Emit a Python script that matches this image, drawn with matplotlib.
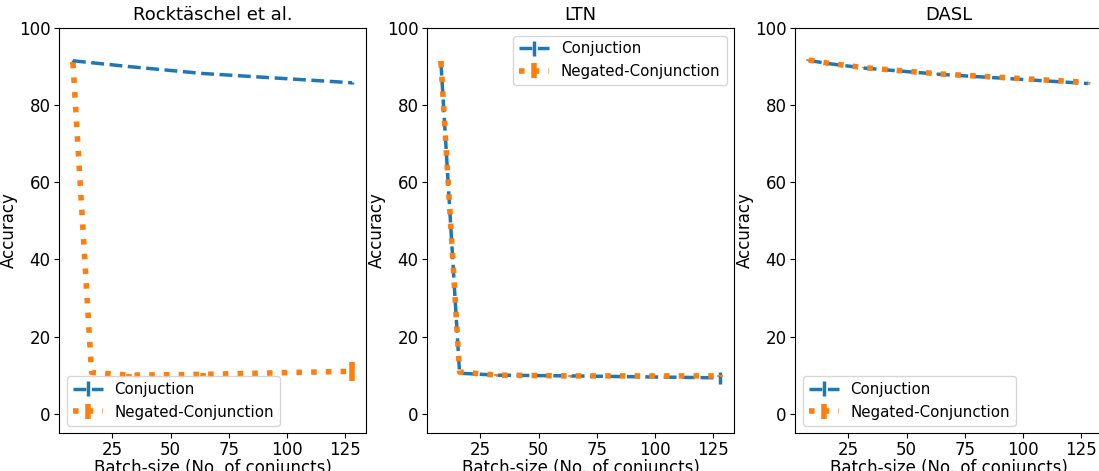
'''
accuracy vs batch-size for three methods, conjunction and negated conjunction
'''
import numpy as np
import matplotlib.pyplot as plt

## batch sizes
batch = [8, 16, 32, 64, 128]
titles = ["Rocktäschel et al.", "LTN", "DASL"]

## accuracies per method: (conjunction, negated conjunction)
rock_conj = [91.5, 91.0, 90.0, 88.2, 85.8]
rock_conj_err = [0.2, 0.2, 0.2, 0.2, 0.3]
rock_neg = [91.0, 10.7, 10.0, 10.2, 11.0]
rock_neg_err = [0.3, 0.3, 0.3, 0.3, 2.5]

ltn_conj = [91.0, 10.5, 10.0, 9.8, 9.3]
ltn_conj_err = [0.3, 0.3, 0.3, 0.3, 1.5]
ltn_neg = [91.2, 10.8, 10.0, 9.8, 9.8]
ltn_neg_err = [0.3, 0.3, 0.3, 0.3, 0.3]

dasl_conj = [91.6, 90.8, 89.6, 88.0, 85.6]
dasl_conj_err = [0.2, 0.2, 0.2, 0.2, 0.2]
dasl_neg = [91.7, 90.9, 89.7, 88.1, 85.9]
dasl_neg_err = [0.2, 0.2, 0.2, 0.2, 0.2]

conj = [rock_conj, ltn_conj, dasl_conj]
conj_err = [rock_conj_err, ltn_conj_err, dasl_conj_err]
neg = [rock_neg, ltn_neg, dasl_neg]
neg_err = [rock_neg_err, ltn_neg_err, dasl_neg_err]
legend_loc = ["lower left", "upper right", "lower left"]

def main() -> None:
    fig = plt.figure(figsize=(10.99, 4.71), dpi=100)
    ## axes placed by hand, last panel runs over the right edge like the original crop
    lefts = [59, 427, 795]
    for i in range(3):
        ax = fig.add_axes([lefts[i] / 1099, 38 / 471, 307 / 1099, 405 / 471])
        ax.errorbar(batch, conj[i], yerr=conj_err[i], linestyle='--', linewidth=2.5,
                    color='#1f77b4', label='Conjuction')
        ax.errorbar(batch, neg[i], yerr=neg_err[i], linestyle=':', linewidth=4,
                    color='#ff7f0e', label='Negated-Conjunction')
        ax.set_ylim(-5, 100)
        ax.set_xticks([25, 50, 75, 100, 125])
        ax.set_title(titles[i], fontsize=13)
        ax.set_ylabel('Accuracy', fontsize=12, labelpad=1)
        ax.set_xlabel('Batch-size (No. of conjuncts)', fontsize=12, labelpad=0)
        ax.tick_params(labelsize=12, pad=2.5)
        ax.legend(loc=legend_loc[i], fontsize=10.8)
    fig.savefig('out.png', dpi=100)

if __name__ == "__main__":
    main()
